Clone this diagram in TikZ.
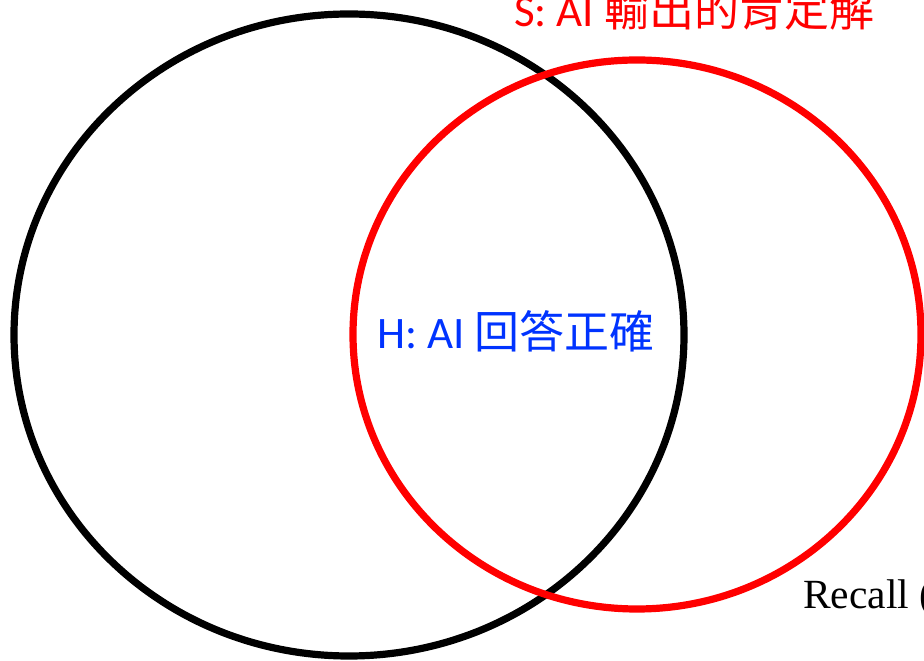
\documentclass[tikz,border=0pt]{standalone}
\usepackage{fontspec}
\usetikzlibrary{shapes.geometric}
\newfontfamily\cjkfont{Noto Sans CJK TC}
\newfontfamily\latfont{Carlito}
\newfontfamily\serfont{Liberation Serif}
\definecolor{hblue}{RGB}{0,51,255}
\definecolor{sred}{RGB}{255,0,0}
\tikzset{
  setring/.style={ellipse, draw, line width=7.2pt, inner sep=0pt, outer sep=0pt},
  lbl/.style={anchor=base west, inner sep=0pt, outer sep=0pt, font=\fontsize{45}{54}\selectfont},
}
\begin{document}
\begin{tikzpicture}[x=1pt,y=1pt]
\useasboundingbox (0,0) rectangle (924,661);
\clip (0,0) rectangle (924,661);
\node[setring, black, minimum width=670pt, minimum height=642pt] (hset) at (349,326) {};
\node[setring, sred, minimum width=568pt, minimum height=549pt] (sset) at (637,326.5) {};
\node[lbl, text=hblue] (hlabel) at (377,312) {{\latfont H: AI }{\cjkfont 回答正確}};
\node[lbl, text=sred] (slabel) at (514,634) {{\latfont S: AI }{\cjkfont 輸出的肯定解}};
\node[anchor=base west, inner sep=0pt, font=\serfont\fontsize{41.5}{48}\selectfont] (recall) at (803,52) {Recall (};
\end{tikzpicture}
\end{document}
